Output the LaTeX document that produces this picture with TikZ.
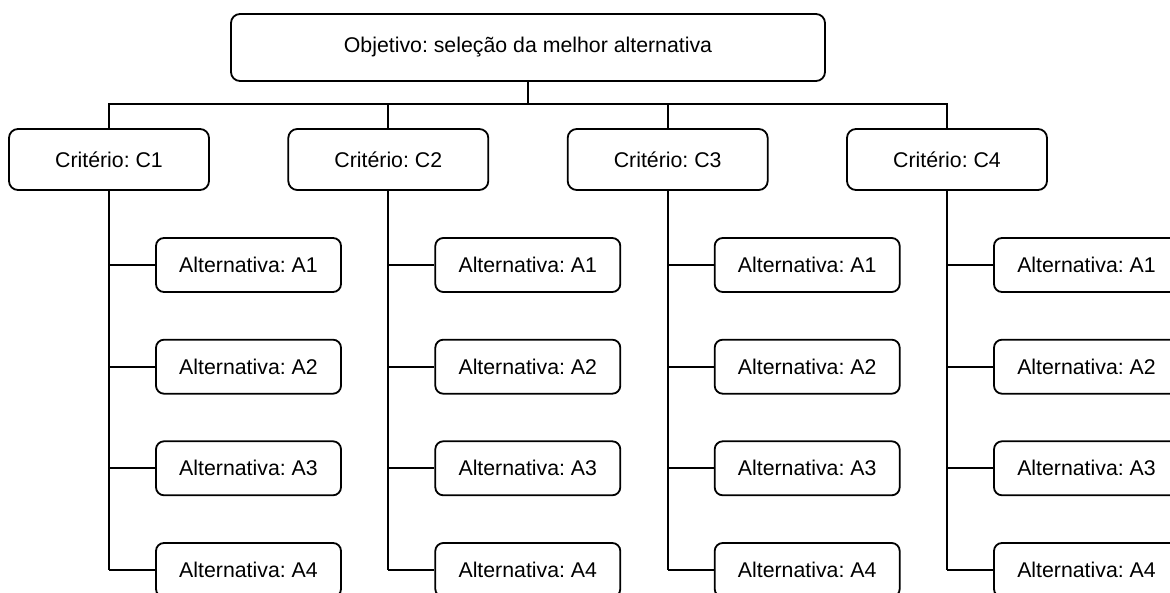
\documentclass[tikz,border=0pt]{standalone}
\usepackage{fontspec}
\setmainfont{Liberation Sans}
\frenchspacing
\begin{document}
\begin{tikzpicture}[x=1pt,y=-1pt,
  box/.style={draw, line width=1.8pt, rounded corners=9pt, inner sep=0pt,
    font=\fontsize{21.3}{25}\selectfont, align=center},
  goalbox/.style={box, minimum width=594pt, minimum height=67pt},
  critbox/.style={box, minimum width=200pt, minimum height=61pt},
  altbox/.style={box, rounded corners=8pt, minimum width=185pt, minimum height=54pt},
  link/.style={line width=1.8pt}]
\clip (0,0) rectangle (1170,593);
\fill[white] (0,0) rectangle (1170,593);

\node[goalbox] (goal) at (528,47.5) {Objetivo: seleção da melhor alternativa};

\foreach \i/\cx in {1/109,2/388.3,3/667.7,4/947}{
  \node[critbox] (c\i) at (\cx,159.5) {Critério: C\i};
  \draw[link] (c\i.north) -- ++(0,-24) -| (goal.south);
  \foreach \j/\ay in {1/265,2/366.7,3/468.3,4/570}{
    \node[altbox] (a\i\j) at (\cx+139.5,\ay) {Alternativa: A\j};
    \draw[link] (c\i.south |- a\i\j.west) -- (a\i\j.west);
  }
  \draw[link] (c\i.south) -- (c\i.south |- a\i4.west);
}
\end{tikzpicture}
\end{document}
